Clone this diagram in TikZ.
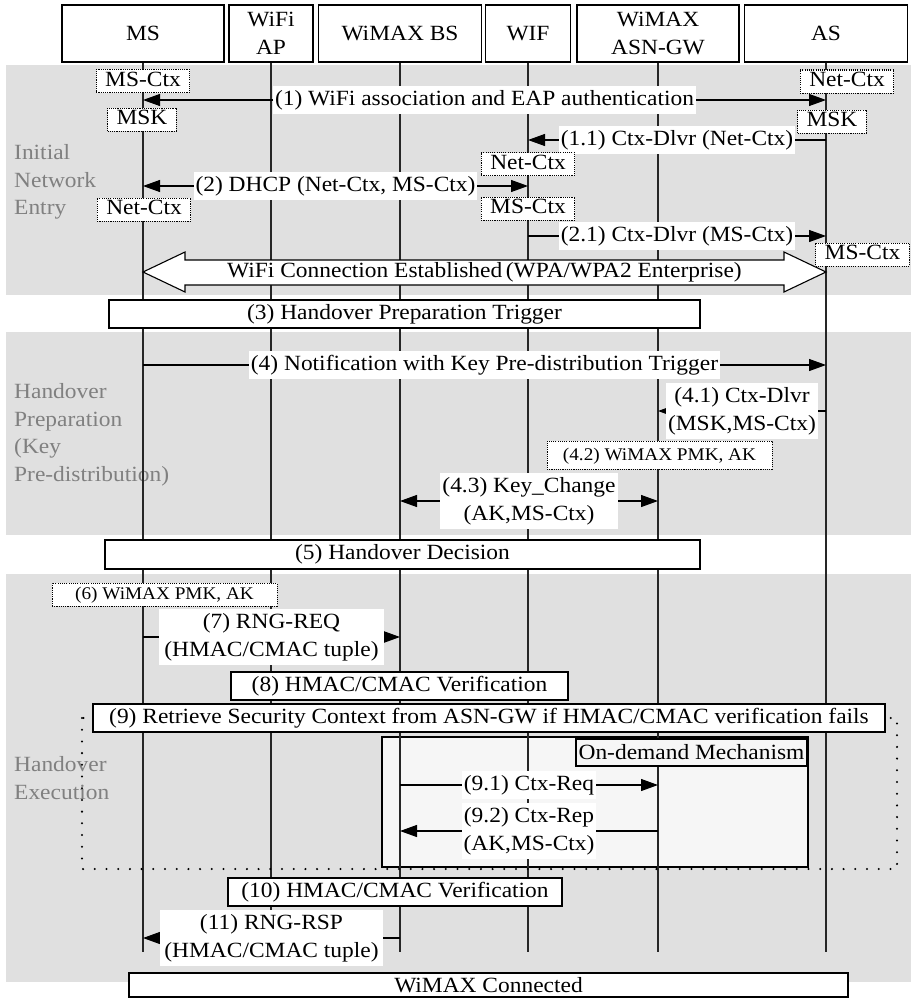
\documentclass[tikz,border=0pt]{standalone}
\usepackage{fontspec}
\setmainfont{Liberation Serif}[FakeStretch=1.08]
\usetikzlibrary{arrows.meta,calc}

\definecolor{bandgray}{gray}{0.88}
\definecolor{phasegray}{gray}{0.5}
\definecolor{ondemand}{gray}{0.965}

\begin{document}
\begin{tikzpicture}[x=1pt,y=-1pt,
  font=\fontsize{21.7}{27.8}\selectfont,
  hdr/.style={draw, line width=1.2pt, fill=white, minimum height=57, inner sep=0pt, align=center},
  life/.style={line width=1.1pt, black!85},
  msg/.style={line width=1.1pt, -{Triangle[length=17pt,width=12pt]}},
  bimsg/.style={line width=1.1pt, {Triangle[length=17pt,width=12pt]}-{Triangle[length=17pt,width=12pt]}},
  lbl/.style={fill=white, inner xsep=2pt, inner ysep=4pt, align=center},
  ctx/.style={draw, dash pattern=on 1.1pt off 1.1pt, line width=1pt, fill=white, inner xsep=9pt, inner ysep=1.5pt, text height=15pt, text depth=5pt},
  smallctx/.style={ctx, font=\fontsize{17.8}{22}\selectfont},
  stepbox/.style={draw, line width=1.5pt, fill=white, inner sep=0pt, minimum height=28},
  phase/.style={text=phasegray, align=left, anchor=north west, inner sep=0pt},
]
\useasboundingbox (0,0) rectangle (911,998);

% phase bands
\fill[bandgray] (6,65) rectangle (911,295);
\fill[bandgray] (6,332) rectangle (911,535);
\fill[bandgray] (6,574) rectangle (911,982);

% phase captions
\node[phase] (ph1) at (14,144) {Initial\\Network\\Entry};
\node[phase] (ph2) at (14,383) {Handover\\Preparation\\(Key\\Pre-distribution)};
\node[phase] (ph3) at (14,756) {Handover\\Execution};

% entities
\node[hdr, minimum width=162] (ms) at (143,33.5) {MS};
\node[hdr, minimum width=84] (ap) at (271,33.5) {WiFi\\AP};
\node[hdr, minimum width=163] (bs) at (400,33.5) {WiMAX BS};
\node[hdr, minimum width=85] (wif) at (528,33.5) {WIF};
\node[hdr, minimum width=162] (gw) at (658,33.5) {WiMAX\\ASN-GW};
\node[hdr, minimum width=163] (as) at (826,33.5) {AS};

% on-demand area (behind the lifelines)
\draw[line width=1.8pt, fill=ondemand] (382,737) rectangle (808,867);

% lifelines
\coordinate (lend) at (0,952);
\foreach \n in {ms,ap,bs,wif,gw,as} \draw[life] (\n.south) -- (\n |- lend);

% dotted frame of step (9)
\draw[line width=2.3pt, dash pattern=on 0pt off 11.7pt, line cap=round] (82,718) rectangle (897,869);

% message rows
\coordinate (r1) at (0,100);
\coordinate (r11) at (0,140);
\coordinate (r2) at (0,186);
\coordinate (r21) at (0,236);
\coordinate (rbig) at (0,272);
\coordinate (r4) at (0,365);
\coordinate (r41) at (0,411);
\coordinate (r43) at (0,501);
\coordinate (r7) at (0,637);
\coordinate (r91) at (0,785);
\coordinate (r92) at (0,831);
\coordinate (r11b) at (0,938);

% initial network entry
\node[ctx] (c1) at (143,81) {MS-Ctx};
\node[ctx] (c2) at (847,81.5) {Net-Ctx};
\draw[bimsg] (ms |- r1) -- (as |- r1) node[lbl, midway] (l1) {(1) WiFi association and EAP authentication};
\node[ctx] (c3) at (142,119.5) {MSK};
\node[ctx] (c4) at (832,121.5) {MSK};
\draw[msg] (as |- r11) -- (wif |- r11) node[lbl, midway] (l11) {(1.1) Ctx-Dlvr (Net-Ctx)};
\node[ctx] (c5) at (528,164) {Net-Ctx};
\draw[bimsg] (ms |- r2) -- (wif |- r2) node[lbl, midway] (l2) {(2) DHCP (Net-Ctx, MS-Ctx)};
\node[ctx] (c6) at (144,209.5) {Net-Ctx};
\node[ctx] (c7) at (528,208.5) {MS-Ctx};
\draw[msg] (wif |- r21) -- (as |- r21) node[lbl, midway] (l21) {(2.1) Ctx-Dlvr (MS-Ctx)};

% block arrow: WiFi connection established
\coordinate (bl) at (ms |- rbig);
\coordinate (br) at (as |- rbig);
\draw[line width=1.1pt, fill=white] (bl) -- ++(42,-20) -- ++(0,8) -- ($(br)+(-42,-12)$) -- ++(0,-8) -- (br)
  -- ++(-42,20) -- ++(0,-7) -- ($(bl)+(42,13)$) -- ++(0,7) -- cycle;
\node[inner sep=0pt] (wifi) at ($(bl)!0.5!(br)$) {WiFi Connection Established\,(WPA/WPA2 Enterprise)};
\node[ctx] (c8) at (862.5,254.5) {MS-Ctx};

% handover preparation
\node[stepbox, minimum width=591] (s3) at (404.5,314) {(3) Handover Preparation Trigger};
\draw[msg] (ms |- r4) -- (as |- r4) node[lbl, midway] (l4) {(4) Notification with Key Pre-distribution Trigger};
\draw[msg] (as |- r41) -- (gw |- r41) node[lbl, midway] (l41) {(4.1) Ctx-Dlvr\\(MSK,MS-Ctx)};
\node[smallctx, minimum width=225, minimum height=28] (c9) at (659.5,455) {(4.2) WiMAX PMK, AK};
\draw[bimsg] (bs |- r43) -- (gw |- r43) node[lbl, midway] (l43) {(4.3) Key\_Change\\(AK,MS-Ctx)};
\node[stepbox, minimum width=595, minimum height=29] (s5) at (402.5,554.5) {(5) Handover Decision};

% handover execution
\node[smallctx, minimum width=225, minimum height=23] (c10) at (164.5,594.5) {(6) WiMAX PMK, AK};
\draw[msg] (ms |- r7) -- (bs |- r7) node[lbl, midway, inner xsep=5pt] (l7) {(7) RNG-REQ\\(HMAC/CMAC tuple)};
\node[stepbox, minimum width=337] (s8) at (399.5,686) {(8) HMAC/CMAC Verification};
\node[stepbox, minimum width=792] (s9) at (489,718) {(9) Retrieve Security Context from ASN-GW if HMAC/CMAC verification fails};
\node[draw, line width=1.5pt, fill=ondemand, minimum width=231, minimum height=27, inner sep=0pt] (odm) at (691.5,752.5) {On-demand Mechanism};
\draw[msg] (bs |- r91) -- (gw |- r91) node[lbl, midway] (l91) {(9.1) Ctx-Req};
\draw[msg] (gw |- r92) -- (bs |- r92) node[lbl, midway] (l92) {(9.2) Ctx-Rep\\(AK,MS-Ctx)};
\node[stepbox, minimum width=334] (s10) at (395,892) {(10) HMAC/CMAC Verification};
\draw[msg] (bs |- r11b) -- (ms |- r11b) node[lbl, midway, inner xsep=4pt] (l11b) {(11) RNG-RSP\\(HMAC/CMAC tuple)};
\node[stepbox, line width=1.3pt, minimum width=719, minimum height=24] (conn) at (488.5,985) {WiMAX Connected};
\end{tikzpicture}
\end{document}
